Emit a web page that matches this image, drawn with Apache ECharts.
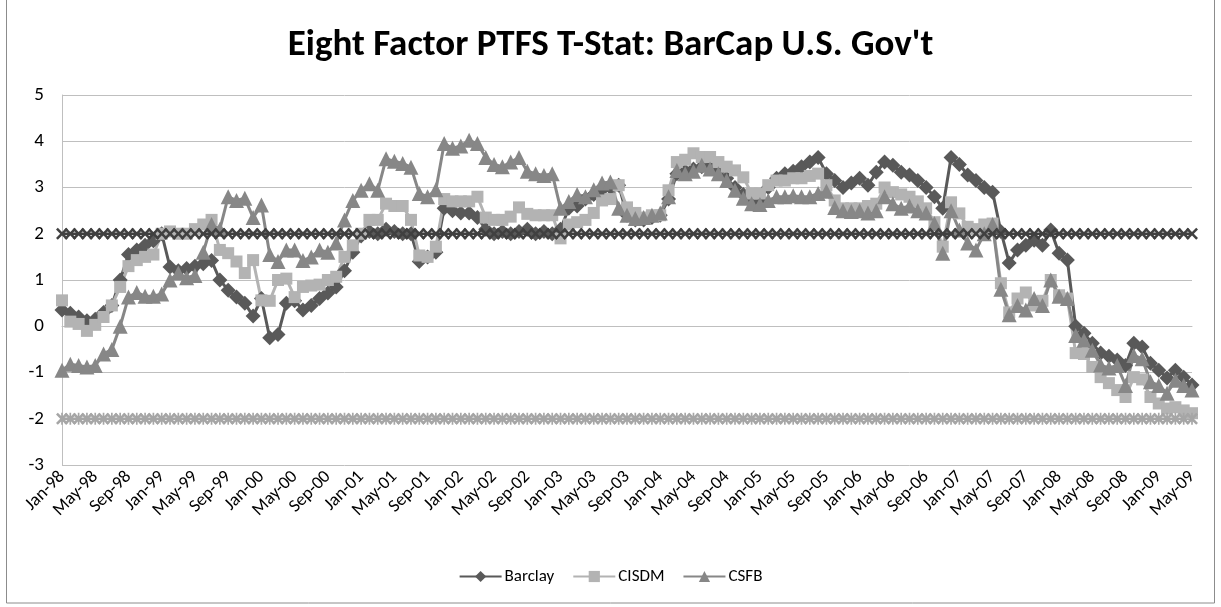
<!DOCTYPE html>
<html>
<head>
<meta charset="utf-8">
<title>Eight Factor PTFS T-Stat</title>
<script src="https://cdn.jsdelivr.net/npm/echarts@6/dist/echarts.min.js"></script>
<style>
  html, body { margin: 0; padding: 0; background: #fff; }
  #chart { width: 1221px; height: 607px; }
</style>
</head>
<body>
<div id="chart"></div>
<script>
// month labels Jan-98 .. May-09
const monthNames = ['Jan', 'Feb', 'Mar', 'Apr', 'May', 'Jun', 'Jul', 'Aug', 'Sep', 'Oct', 'Nov', 'Dec']
const years = ['98', '99', '00', '01', '02', '03', '04', '05', '06', '07', '08', '09']
const months = []
years.forEach(y => monthNames.forEach(m => months.push(m + '-' + y)))
months.splice(137)

const barclay = [
  0.35, 0.28, 0.2, 0.12, 0.15, 0.3, 0.45, 1.0, 1.55, 1.65, 1.75, 1.85,
  2.0, 1.28, 1.2, 1.25, 1.3, 1.35, 1.42, 1.0, 0.78, 0.63, 0.5, 0.22,
  0.6, -0.25, -0.18, 0.5, 0.55, 0.35, 0.45, 0.6, 0.72, 0.85, 1.2, 1.6,
  1.95, 2.05, 2.0, 2.1, 2.05, 2.0, 2.0, 1.4, 1.5, 1.6, 2.55, 2.5,
  2.45, 2.45, 2.35, 2.1, 2.0, 2.05, 2.0, 2.05, 2.1, 2.0, 2.05, 2.0,
  2.1, 2.55, 2.6, 2.75, 2.85, 2.95, 3.0, 3.05, 2.4, 2.3, 2.3, 2.35,
  2.4, 2.75, 3.3, 3.35, 3.4, 3.45, 3.45, 3.35, 3.2, 3.0, 2.85, 2.7,
  2.75, 3.0, 3.2, 3.3, 3.35, 3.45, 3.55, 3.65, 3.3, 3.15, 3.0, 3.1,
  3.2, 3.05, 3.33, 3.55, 3.48, 3.33, 3.27, 3.15, 3.0, 2.8, 2.55, 3.65,
  3.5, 3.27, 3.15, 3.0, 2.9, 2.05, 1.37, 1.65, 1.75, 1.86, 1.75, 2.08,
  1.58, 1.43, 0.0, -0.15, -0.37, -0.58, -0.65, -0.73, -0.85, -0.37, -0.45, -0.8,
  -0.95, -1.12, -0.95, -1.1, -1.27
]

const cisdm = [
  0.56, 0.1, 0.05, -0.1, 0.03, 0.2, 0.45, 0.85, 1.3, 1.43, 1.5, 1.55,
  2.0, 2.05, 2.0, 2.0, 2.1, 2.2, 2.3, 1.65, 1.58, 1.4, 1.15, 1.43,
  0.56, 0.55, 1.0, 1.03, 0.63, 0.85, 0.88, 0.9, 1.0, 1.07, 1.5, 1.75,
  2.0, 2.3, 2.3, 2.65, 2.6, 2.6, 2.3, 1.53, 1.5, 1.72, 2.75, 2.7,
  2.7, 2.7, 2.8, 2.35, 2.3, 2.3, 2.37, 2.57, 2.43, 2.4, 2.4, 2.4,
  1.9, 2.2, 2.25, 2.3, 2.45, 2.72, 2.75, 3.05, 2.57, 2.45, 2.35, 2.4,
  2.4, 2.94, 3.55, 3.6, 3.74, 3.66, 3.66, 3.55, 3.45, 3.37, 3.22, 2.87,
  2.87, 3.05, 3.15, 3.15, 3.2, 3.2, 3.25, 3.3, 3.05, 2.72, 2.55, 2.55,
  2.55, 2.6, 2.65, 3.0, 2.9, 2.85, 2.8, 2.7, 2.55, 2.25, 1.72, 2.68,
  2.44, 2.15, 2.1, 2.2, 2.22, 0.93, 0.3, 0.6, 0.73, 0.45, 0.55, 1.0,
  0.67, 0.6, -0.58, -0.6, -0.88, -1.1, -1.23, -1.38, -1.53, -1.1, -1.15, -1.53,
  -1.67, -1.78, -1.75, -1.82, -1.88
]

const csfb = [
  -0.95, -0.82, -0.85, -0.88, -0.85, -0.6, -0.5, 0.0, 0.63, 0.73, 0.65, 0.65,
  0.7, 1.0, 1.15, 1.05, 1.1, 1.6, 2.2, 2.1, 2.8, 2.72, 2.77, 2.35,
  2.62, 1.55, 1.4, 1.65, 1.65, 1.42, 1.5, 1.65, 1.6, 1.8, 2.3, 2.72,
  2.94, 3.08, 2.94, 3.62, 3.57, 3.52, 3.44, 2.87, 2.8, 2.95, 3.95, 3.85,
  3.9, 4.02, 3.95, 3.65, 3.5, 3.45, 3.55, 3.65, 3.35, 3.3, 3.26, 3.3,
  2.55, 2.7, 2.85, 2.8, 2.95, 3.1, 3.12, 2.55, 2.4, 2.33, 2.35, 2.4,
  2.45, 2.8, 3.37, 3.3, 3.35, 3.48, 3.4, 3.3, 3.15, 2.94, 2.77, 2.65,
  2.63, 2.72, 2.8, 2.8, 2.82, 2.8, 2.8, 2.87, 2.92, 2.57, 2.5, 2.48,
  2.5, 2.45, 2.5, 2.8, 2.65, 2.55, 2.6, 2.5, 2.45, 2.22, 1.58, 2.5,
  2.08, 1.8, 1.65, 2.0, 2.2, 0.8, 0.25, 0.45, 0.35, 0.6, 0.45, 1.0,
  0.65, 0.6, -0.2, -0.3, -0.52, -0.84, -0.9, -0.85, -1.28, -0.63, -0.7, -1.2,
  -1.28, -1.45, -1.17, -1.28, -1.38
]

// significance bands at +2 / -2
const upperLevel = 2
const lowerLevel = -2
const yTicks = { min: -3, max: 5, step: 1 }

const fontName = 'Carlito, "Open Sans", sans-serif'
const xMark = 'path://M0,1.5L1.5,0L5,3.5L8.5,0L10,1.5L6.5,5L10,8.5L8.5,10L5,6.5L1.5,10L0,8.5L3.5,5Z'
const starMark = 'path://M0,1.5L1.5,0L4.3,2.8L4.3,0L5.7,0L5.7,2.8L8.5,0L10,1.5L6.5,5L10,8.5L8.5,10L5.7,7.2L5.7,10L4.3,10L4.3,7.2L1.5,10L0,8.5L3.5,5Z'

const chart = echarts.init(document.getElementById('chart'))

const lineSeries = (name, data, color, symbol, size, width) => ({
  name: name,
  type: 'line',
  data: data,
  symbol: symbol,
  symbolSize: size,
  showAllSymbol: true,
  lineStyle: { color: color, width: width },
  itemStyle: { color: color },
  emphasis: { disabled: true },
})

chart.setOption({
  animation: false,
  backgroundColor: '#fff',
  title: {
    text: "Eight Factor PTFS T-Stat: BarCap U.S. Gov't",
    left: 'center',
    top: 22,
    textStyle: { fontFamily: fontName, fontSize: 37, fontWeight: 'bold', color: '#000' },
  },
  legend: {
    data: ['Barclay', 'CISDM', 'CSFB'],
    bottom: 17,
    left: 'center',
    itemWidth: 42,
    itemHeight: 14,
    itemGap: 18,
    textStyle: { fontFamily: fontName, fontSize: 17, color: '#000', padding: [0, 0, 0, -2] },
  },
  grid: { left: 62, right: 29, top: 95, bottom: 142 },
  xAxis: {
    type: 'category',
    data: months,
    boundaryGap: false,
    axisLine: { lineStyle: { color: '#bfbfbf' } },
    axisTick: { show: false },
    axisLabel: { interval: 3, rotate: 45, fontFamily: fontName, fontSize: 18, color: '#000', margin: 9 },
  },
  yAxis: {
    type: 'value',
    min: yTicks.min,
    max: yTicks.max,
    interval: yTicks.step,
    axisLine: { show: true, lineStyle: { color: '#bfbfbf' } },
    axisTick: { show: false },
    splitLine: { lineStyle: { color: '#bfbfbf' } },
    axisLabel: { fontFamily: fontName, fontSize: 19, color: '#000', margin: 18 },
  },
  series: [
    lineSeries('Barclay', barclay, '#595959', 'diamond', 15, 3),
    lineSeries('CISDM', cisdm, '#b3b3b3', 'rect', 12, 3),
    lineSeries('CSFB', csfb, '#878787', 'triangle', 15, 3),
    lineSeries('+2', months.map(() => upperLevel), '#404040', xMark, 12, 2.5),
    lineSeries('-2', months.map(() => lowerLevel), '#a6a6a6', starMark, 12, 2.5),
  ],
  graphic: [{
    type: 'rect',
    shape: { x: 6.5, y: -1, width: 1208, height: 604 },
    style: { fill: 'none', stroke: '#8c8c8c', lineWidth: 1 },
    silent: true,
  }],
})
</script>
</body>
</html>
